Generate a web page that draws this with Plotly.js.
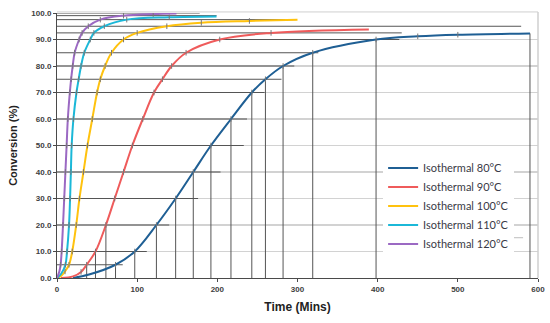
<!DOCTYPE html>
<html>
<head>
<meta charset="utf-8">
<script src="https://cdn.plot.ly/plotly-3.0.1.min.js"></script>
<style>html,body{margin:0;padding:0;background:#fff;}#chart{width:550px;height:323px;}</style>
</head>
<body>
<div id="chart"></div>
<script>
// Series data (time in minutes, conversion in %)
var names = ["Isothermal 80°C", "Isothermal 90°C", "Isothermal 100°C", "Isothermal 110°C", "Isothermal 120°C"];

var x80  = [20, 40, 73, 97, 124, 148, 170, 192, 217, 243, 260, 282, 319, 398, 450, 500, 590];
var y80  = [0, 1.3, 5, 10, 20, 30, 40, 50, 60, 70, 75, 80, 85, 90, 91.2, 91.8, 92.3];

var x90  = [5, 20, 30, 37, 48, 61, 72, 83, 94, 107, 121, 131.5, 143, 161, 203, 267, 389];
var y90  = [0, 0.6, 2.3, 5, 10, 20, 30, 40, 50, 60, 70, 75, 80, 85, 90, 92.5, 93.8];

var x100 = [0, 5, 10, 15, 19, 24, 28, 33, 38, 44, 50, 54, 60, 68, 83, 100, 137, 180, 240, 300];
var y100 = [0, 0.8, 2.5, 5, 10, 20, 30, 40, 50, 60, 70, 75, 80, 85, 90, 92.5, 95, 96.3, 97, 97.5];

var x110 = [0, 5, 10.5, 12.5, 15, 16.3, 17.3, 18.3, 20.5, 24.3, 27, 30, 34, 41.5, 46, 59, 87, 140, 199];
var y110 = [0, 1.5, 5, 10, 20, 30, 40, 50, 60, 70, 75, 80, 85, 90, 92.5, 95, 97.5, 98.4, 98.7];

var x120 = [0, 3, 4.5, 5.8, 7.5, 9, 10.5, 12, 13.5, 16, 17.6, 19.6, 22, 27.6, 31.3, 39, 54, 83, 120, 149];
var y120 = [0, 2.5, 5, 10, 20, 30, 40, 50, 60, 70, 75, 80, 85, 90, 92.5, 95, 97.5, 99, 99.6, 99.8];

// Reading guide lines: horizontal (from y-axis to an end time) and vertical (from x-axis up to a level)
var hGuideY   = [5, 10, 20, 30, 40, 50, 60, 70, 75, 80, 85, 90, 92.5, 95, 97.5, 99, 100];
var hGuideEnd = [82, 112, 140, 176, 204, 233, 237, 259, 280, 296, 326, 427, 430, 579, 298, 199, 178];
var vGuideX   = [37, 48, 61, 73, 97, 124, 148, 170, 192, 217, 243, 260, 282, 319, 398, 590];
var vGuideTop = [5, 10, 20, 5, 10, 20, 30, 40, 50, 60, 70, 75, 80, 85, 90, 92.3];

var xTicks = [0, 100, 200, 300, 400, 500, 600];
var yTicks = [0, 10, 20, 30, 40, 50, 60, 70, 80, 90, 100];

var colors = ["#1f5f94", "#ef5b5b", "#ffc20e", "#1bb8d8", "#9b69c3"];
var xs = [x80, x90, x100, x110, x120];
var ys = [y80, y90, y100, y110, y120];

var traces = [];
// guide lines
var gx = [], gy = [];
for (var i = 0; i < hGuideY.length; i++) { gx.push(0, hGuideEnd[i], null); gy.push(hGuideY[i], hGuideY[i], null); }
for (var j = 0; j < vGuideX.length; j++) { gx.push(vGuideX[j], vGuideX[j], null); gy.push(0, vGuideTop[j], null); }
traces.push({x: gx, y: gy, mode: "lines", line: {color: "#555", width: 1}, showlegend: false, hoverinfo: "skip"});

for (var k = 0; k < 5; k++) {
  traces.push({
    x: xs[k], y: ys[k], name: names[k], mode: "lines",
    line: {color: colors[k], width: 2, shape: "spline", smoothing: 1},
    showlegend: true
  });
  traces.push({
    x: xs[k].slice(2, -1), y: ys[k].slice(2, -1), mode: "markers",
    marker: {symbol: "line-ns", size: 4, line: {color: "#777", width: 1}},
    showlegend: false, hoverinfo: "skip"
  });
}

var tickFont = {family: "Liberation Sans, Arial, sans-serif", size: 8, color: "#404040", weight: "bold"};
var layout = {
  width: 550, height: 323,
  margin: {l: 56.5, r: 12, t: 13, b: 45},
  paper_bgcolor: "#fff", plot_bgcolor: "#fff",
  showlegend: true,
  legend: {x: 0.678, y: 0.47, xanchor: "left", yanchor: "top", bgcolor: "#fff",
    font: {family: "Lato, sans-serif", size: 11, color: "#3a3a46"}, tracegroupgap: 0, itemwidth: 30},
  xaxis: {range: [0, 600], tickvals: xTicks, ticktext: xTicks.map(String), showgrid: false, zeroline: false,
    showline: true, linecolor: "#4a4a4a", linewidth: 1, ticks: "outside", ticklen: 3, tickcolor: "#4a4a4a",
    tickfont: tickFont,
    title: {text: "Time (Mins)", font: {family: "Liberation Sans, Arial, sans-serif", size: 12, color: "#222", weight: "bold"}, standoff: 10}},
  yaxis: {range: [0, 100], tickvals: yTicks, ticktext: yTicks.map(function(v){return v.toFixed(1);}),
    showgrid: true, gridcolor: "#d2d2d2", gridwidth: 1.5, zeroline: false,
    showline: true, linecolor: "#4a4a4a", linewidth: 1, ticks: "outside", ticklen: 3, tickcolor: "#4a4a4a",
    tickfont: tickFont,
    title: {text: "Conversion (%)", font: {family: "Liberation Sans, Arial, sans-serif", size: 11, color: "#222", weight: "bold"}, standoff: 11}},
  shapes: [
    {type: "line", xref: "paper", yref: "paper", x0: 0, x1: 1, y0: 1.004, y1: 1.004, line: {color: "#cfcfcf", width: 1}},
    {type: "line", xref: "paper", yref: "paper", x0: 1, x1: 1, y0: 0, y1: 1.004, line: {color: "#cfcfcf", width: 1.5}},
    {type: "line", xref: "paper", yref: "paper", x0: 0.782, x1: 0.969, y0: 0.152, y1: 0.152, line: {color: "#bdbdbd", width: 1}}
  ]
};

Plotly.newPlot("chart", traces, layout, {staticPlot: true, displayModeBar: false});
</script>
</body>
</html>
